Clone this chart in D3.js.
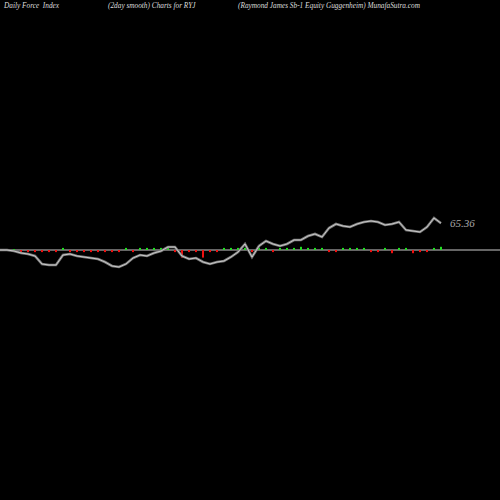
<!DOCTYPE html>
<html><head><meta charset="utf-8">
<script src="https://cdn.jsdelivr.net/npm/d3@7"></script>
<style>body{margin:0;background:#000}</style>
</head><body><div id="chart" style="width:500px;height:500px"></div>
<script>
/* DATA */
const days = d3.range(64);
const price = [60.0,60.0,59.8,59.4,59.2,58.8,57.2,57.0,57.0,59.0,59.2,58.8,58.6,58.4,58.2,57.6,56.8,56.6,57.2,58.4,59.0,58.8,59.4,59.8,60.6,60.6,58.8,58.2,58.4,57.6,57.2,57.6,57.8,58.6,59.6,61.2,58.6,60.8,61.8,61.2,60.8,61.2,62.0,62.0,62.8,63.2,62.6,64.4,65.2,64.8,64.6,65.2,65.6,65.8,65.6,65.0,65.2,65.6,64.0,63.8,63.6,64.6,66.4,65.36];
const force = [0,0,0,-1,-1,-1,-1,-1,-1,1,-1,-1,-1,-1,-1,-1,-1,-1,1,-1,1,1,1,1,1,-1,-6,-1,-1,-6,-1,-1,1,1,1,1,-1,1,1,-1,1,1,1,2,1,1,1,-1,-1,1,1,1,1,-1,-1,1,-2,1,1,-2,-1,-1,1,2];
const titles = ["Daily Force  Index","(2day smooth) Charts for RYJ","(Raymond James Sb-1 Equity Guggenheim) MunafaSutra.com"];
const lastLabel = "65.36";

const width = 500, height = 500;
const svg = d3.select("#chart").append("svg").attr("width",width).attr("height",height)
  .style("background","#000");

const xScale = d3.scaleLinear().domain([0,63]).range([0,441]);
const yScale = d3.scaleLinear().domain([60,70]).range([250,200]);
const fScale = d3.scaleLinear().domain([-10,10]).range([261,239]);

/* BASELINE */
svg.append("line").attr("x1",0).attr("x2",500).attr("y1",250).attr("y2",250)
  .attr("stroke","#888").attr("stroke-width",1.5);

/* FORCE BARS */
svg.selectAll("rect.f").data(days).enter().append("rect")
  .attr("x", d => xScale(d)-1)
  .attr("width", 2)
  .attr("y", d => force[d] >= 0 ? fScale(force[d]) - 1 : fScale(0))
  .attr("height", d => Math.abs(fScale(force[d]) - fScale(0)) + 1)
  .attr("fill", d => force[d] >= 0 ? "#22dd22" : "#ee1111");

/* PRICE LINE */
const line = d3.line().x(d => xScale(d)).y(d => yScale(price[d]));
svg.append("path").datum(days).attr("d", line)
  .attr("fill","none").attr("stroke","#777").attr("stroke-width",2.6);
svg.append("path").datum(days).attr("d", line)
  .attr("fill","none").attr("stroke","#ddd").attr("stroke-width",0.8);

svg.append("text").attr("x",450).attr("y",yScale(price[63])+4)
  .attr("fill","#aaa").attr("font-family","Liberation Serif").attr("font-style","italic")
  .attr("font-size",11).text(lastLabel);

/* TITLES */
const tx = [4,108,238];
titles.forEach((t,i) => svg.append("text").attr("x",tx[i]).attr("y",8)
  .attr("fill","#ddd").attr("font-family","Liberation Serif").attr("font-style","italic")
  .attr("font-size",7.3).attr("xml:space","preserve").text(t));
</script></body></html>
